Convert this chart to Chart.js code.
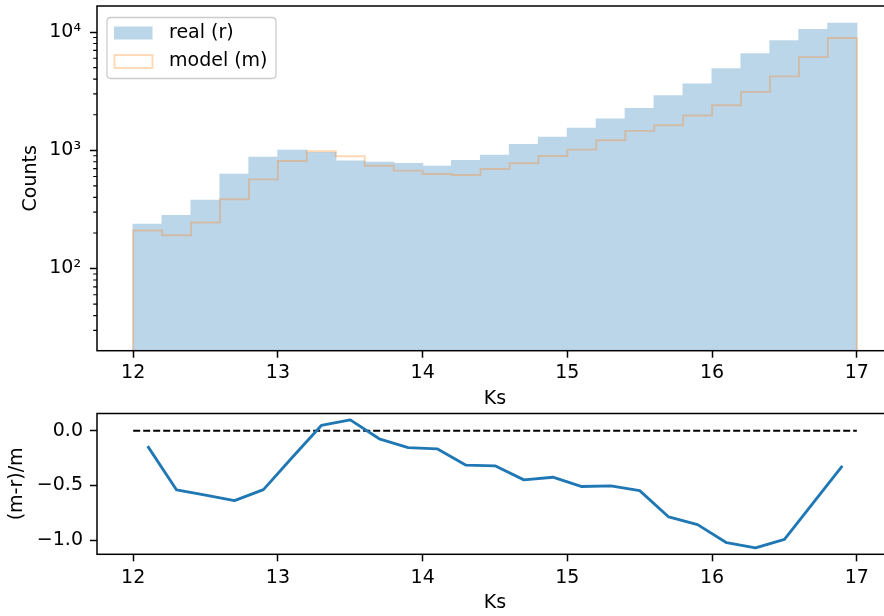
<!DOCTYPE html>
<html>
<head>
<meta charset="utf-8">
<script src="https://cdn.jsdelivr.net/npm/chart.js@4.4.1/dist/chart.umd.min.js"></script>
<style>
  html, body { margin: 0; padding: 0; background: #ffffff; overflow: hidden; width: 884px; height: 616px; }
  #topBox { position: absolute; left: 0; top: 0; width: 900px; height: 412px; }
  #botBox { position: absolute; left: 0; top: 404px; width: 900px; height: 212px; }
</style>
</head>
<body>
<div id="topBox"><canvas id="topChart" width="900" height="412"></canvas></div>
<div id="botBox"><canvas id="botChart" width="900" height="212"></canvas></div>
<script>
// ---------------- data ----------------
const binEdges = [12.0, 12.2, 12.4, 12.6, 12.8, 13.0, 13.2, 13.4, 13.6, 13.8, 14.0, 14.2, 14.4,
                  14.6, 14.8, 15.0, 15.2, 15.4, 15.6, 15.8, 16.0, 16.2, 16.4, 16.6, 16.8, 17.0];
const binCenters = [12.1, 12.3, 12.5, 12.7, 12.9, 13.1, 13.3, 13.5, 13.7, 13.9, 14.1, 14.3, 14.5,
                    14.7, 14.9, 15.1, 15.3, 15.5, 15.7, 15.9, 16.1, 16.3, 16.5, 16.7, 16.9];
const realCounts = [236, 281, 377, 626, 873, 1000, 955, 811, 791, 771, 731, 818, 907,
                    1117, 1288, 1535, 1833, 2255, 2885, 3623, 4886, 6549, 8440, 10460, 11850];
const modelCounts = [210, 191, 245, 385, 568, 811, 982, 890, 741, 673, 630, 618, 695,
                     776, 896, 1013, 1216, 1459, 1629, 1968, 2405, 3121, 4218, 6139, 8894];
const residuals = [-0.14, -0.54, -0.588, -0.638, -0.537, -0.242, 0.049, 0.10, -0.073, -0.153, -0.165, -0.314, -0.32,
                   -0.448, -0.424, -0.509, -0.503, -0.546, -0.787, -0.857, -1.022, -1.070, -0.991, -0.656, -0.32];
const zeroLineX = [12, 17];
const zeroLineY = [0, 0];

const xTickValues = [12, 13, 14, 15, 16, 17];
const countTickValues = [100, 1000, 10000];
const countTickLabels = ['10\u00b2', '10\u00b3', '10\u2074'];
const residTickValues = [0, -0.5, -1.0];
const residTickLabels = ['0.0', '\u22120.5', '\u22121.0'];
const seriesLabels = ['real (r)', 'model (m)'];
const xTitle = 'Ks';
const countTitle = 'Counts';
const residTitle = '(m-r)/m';

// axis limits
const xMin = 11.75, xMax = 17.25;
const countMin = 20.2, countMax = 16600;
const residMin = -1.128, residMax = 0.158;

// ---------------- styling ----------------
const FONT = 'DejaVu Sans';
Chart.defaults.font.family = FONT;
Chart.defaults.font.size = 19;
Chart.defaults.color = '#000000';
Chart.defaults.animation = false;

const realFill = 'rgb(188,214,233)';
const modelLine = 'rgba(255,127,14,0.3)';
const residColor = '#1f77b4';

const stepPoints = [{x: binEdges[0], y: countMin}]
  .concat(modelCounts.map((v, i) => ({x: binEdges[i], y: v})))
  .concat([{x: binEdges[binEdges.length - 1], y: modelCounts[modelCounts.length - 1]},
           {x: binEdges[binEdges.length - 1], y: countMin}]);

function zeroPad(s) { s.paddingTop = 0; s.paddingBottom = 0; s.paddingLeft = 0; s.paddingRight = 0; }

function frameAndMinor(chart) {
  const ctx = chart.ctx, a = chart.chartArea;
  ctx.save();
  ctx.strokeStyle = '#000000';
  ctx.lineWidth = 1.5;
  ctx.strokeRect(a.left, a.top, a.right - a.left, a.bottom - a.top);
  const ys = chart.scales.y;
  if (ys.type === 'logarithmic') {
    ctx.lineWidth = 1.1;
    ctx.beginPath();
    for (const dec of [10, 100, 1000, 10000]) {
      for (let m = 2; m <= 9; m++) {
        const v = m * dec;
        if (v < countMin || v > countMax) continue;
        const p = ys.getPixelForValue(v);
        ctx.moveTo(a.left - 3.8, p);
        ctx.lineTo(a.left, p);
      }
    }
    ctx.stroke();
  }
  ctx.restore();
}

const framePlugin = { id: 'framePlugin', afterDraw(chart) { frameAndMinor(chart); } };

const legendPlugin = {
  id: 'legendPlugin',
  afterDraw(chart) {
    const ctx = chart.ctx;
    const ds = chart.data.datasets;
    const bx = 107, by = 17.5, bw = 169, bh = 61, r = 4;
    ctx.save();
    ctx.beginPath();
    ctx.moveTo(bx + r, by);
    ctx.lineTo(bx + bw - r, by);
    ctx.quadraticCurveTo(bx + bw, by, bx + bw, by + r);
    ctx.lineTo(bx + bw, by + bh - r);
    ctx.quadraticCurveTo(bx + bw, by + bh, bx + bw - r, by + bh);
    ctx.lineTo(bx + r, by + bh);
    ctx.quadraticCurveTo(bx, by + bh, bx, by + bh - r);
    ctx.lineTo(bx, by + r);
    ctx.quadraticCurveTo(bx, by, bx + r, by);
    ctx.closePath();
    ctx.fillStyle = 'rgba(255,255,255,0.8)';
    ctx.fill();
    ctx.strokeStyle = '#cccccc';
    ctx.lineWidth = 1.3;
    ctx.stroke();
    // handles
    ctx.fillStyle = ds[0].backgroundColor;
    ctx.fillRect(114, 26.5, 38.5, 13);
    ctx.strokeStyle = ds[1].borderColor;
    ctx.lineWidth = 1.9;
    ctx.strokeRect(114.5, 55, 38, 13);
    // texts
    ctx.fillStyle = '#000000';
    ctx.font = '19px "' + FONT + '"';
    ctx.textAlign = 'left';
    ctx.textBaseline = 'middle';
    ctx.fillText(ds[0].label, 169, 33);
    ctx.fillText(ds[1].label, 169, 61.5);
    ctx.restore();
  }
};

// ---------------- top chart ----------------
new Chart(document.getElementById('topChart'), {
  type: 'bar',
  data: {
    datasets: [
      {
        type: 'bar',
        label: seriesLabels[0],
        data: binCenters.map((c, i) => ({x: c, y: realCounts[i]})),
        backgroundColor: realFill,
        borderWidth: 0,
        inflateAmount: 0.6,
        barPercentage: 1.0,
        categoryPercentage: 1.0,
        order: 2
      },
      {
        type: 'line',
        label: seriesLabels[1],
        data: stepPoints,
        borderColor: modelLine,
        backgroundColor: modelLine,
        borderWidth: 1.9,
        stepped: 'before',
        pointRadius: 0,
        fill: false,
        order: 1
      }
    ]
  },
  options: {
    responsive: false,
    maintainAspectRatio: false,
    layout: { padding: { top: 6, right: 7, left: 0, bottom: 0 } },
    plugins: { legend: { display: false }, tooltip: { enabled: false } },
    scales: {
      x: {
        type: 'linear',
        min: xMin, max: xMax,
        offset: false,
        afterBuildTicks: s => { s.ticks = xTickValues.map(v => ({value: v})); },
        afterFit: s => { s.height = 61.3; zeroPad(s); },
        ticks: { padding: 4, maxRotation: 0, autoSkip: false, color: '#000', font: {size: 19} },
        grid: { display: true, offset: false, drawOnChartArea: false, drawTicks: true, tickLength: 7, tickWidth: 1.5, tickColor: '#000' },
        border: { display: false },
        title: { display: true, text: xTitle, color: '#000', font: {size: 19}, padding: {top: 0, bottom: 2} }
      },
      y: {
        type: 'logarithmic',
        min: countMin, max: countMax,
        afterBuildTicks: s => { s.ticks = countTickValues.map(v => ({value: v})); },
        afterFit: s => { s.width = 97; zeroPad(s); },
        ticks: { padding: 9, autoSkip: false, color: '#000', font: {size: 19},
                 callback: (v, i) => countTickLabels[i] },
        grid: { display: true, drawOnChartArea: false, drawTicks: true, tickLength: 7, tickWidth: 1.5, tickColor: '#000' },
        border: { display: false },
        title: { display: true, text: countTitle, color: '#000', font: {size: 19}, padding: {top: 19.5, bottom: 0} }
      }
    }
  },
  plugins: [framePlugin, legendPlugin]
});

// ---------------- bottom chart ----------------
new Chart(document.getElementById('botChart'), {
  type: 'line',
  data: {
    datasets: [
      {
        label: 'zero',
        data: zeroLineX.map((x, i) => ({x: x, y: zeroLineY[i]})),
        borderColor: '#000000',
        borderWidth: 1.9,
        borderDash: [7, 3],
        pointRadius: 0,
        fill: false,
        order: 2
      },
      {
        label: residTitle,
        data: binCenters.map((c, i) => ({x: c, y: residuals[i]})),
        borderColor: residColor,
        borderWidth: 2.85,
        pointRadius: 0,
        tension: 0,
        fill: false,
        borderJoinStyle: 'round',
        order: 1
      }
    ]
  },
  options: {
    responsive: false,
    maintainAspectRatio: false,
    layout: { padding: { top: 9.5, right: 7, left: 0, bottom: 0 } },
    plugins: { legend: { display: false }, tooltip: { enabled: false } },
    scales: {
      x: {
        type: 'linear',
        min: xMin, max: xMax,
        afterBuildTicks: s => { s.ticks = xTickValues.map(v => ({value: v})); },
        afterFit: s => { s.height = 61.7; zeroPad(s); },
        ticks: { padding: 5, maxRotation: 0, autoSkip: false, color: '#000', font: {size: 19} },
        grid: { display: true, drawOnChartArea: false, drawTicks: true, tickLength: 7, tickWidth: 1.5, tickColor: '#000' },
        border: { display: false },
        title: { display: true, text: xTitle, color: '#000', font: {size: 19}, padding: {top: 0, bottom: 2} }
      },
      y: {
        type: 'linear',
        min: residMin, max: residMax,
        afterBuildTicks: s => { s.ticks = residTickValues.map(v => ({value: v})); },
        afterFit: s => { s.width = 97; zeroPad(s); },
        ticks: { padding: 7, autoSkip: false, color: '#000', font: {size: 19},
                 callback: (v, i) => residTickLabels[i] },
        grid: { display: true, drawOnChartArea: false, drawTicks: true, tickLength: 7, tickWidth: 1.5, tickColor: '#000' },
        border: { display: false },
        title: { display: true, text: residTitle, color: '#000', font: {size: 19}, padding: {top: 6, bottom: 0} }
      }
    }
  },
  plugins: [framePlugin]
});
</script>
</body>
</html>
